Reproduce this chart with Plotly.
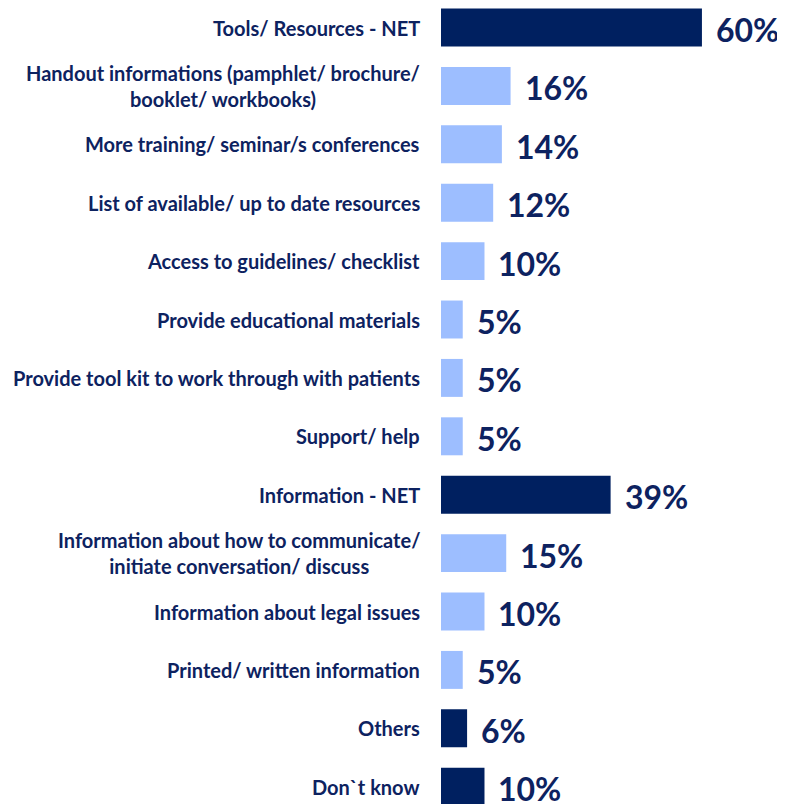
import plotly.graph_objects as go

categories = [
    "Tools/ Resources - NET",
    "Handout informations (pamphlet/ brochure/<br>booklet/ workbooks)",
    "More training/ seminar/s conferences",
    "List of available/ up to date resources",
    "Access to guidelines/ checklist",
    "Provide educational materials",
    "Provide tool kit to work through with patients",
    "Support/ help",
    "Information - NET",
    "Information about how to communicate/<br>initiate conversation/ discuss",
    "Information about legal issues",
    "Printed/ written information",
    "Others",
    "Don`t know",
]
values = [60, 16, 14, 12, 10, 5, 5, 5, 39, 15, 10, 5, 6, 10]
is_net = [True, False, False, False, False, False, False, False, True, False, False, False, True, True]

DARK = "#002060"
LIGHT = "#9DBEFF"
TEXT = "#0D2260"
FONT = "Lato"

colors = [DARK if n else LIGHT for n in is_net]
idx = list(range(len(categories)))

fig = go.Figure(go.Bar(
    x=values, y=idx, orientation="h",
    marker=dict(color=colors, line=dict(width=0)),
    hoverinfo="skip",
))

annotations = []
for i, (c, v) in enumerate(zip(categories, values)):
    annotations.append(dict(
        x=0, xref="paper", y=i, yref="y", text=c, showarrow=False,
        xanchor="right", yanchor="middle", align="center", xshift=-19,
        font=dict(family=FONT, size=20, color=TEXT, weight="bold"),
    ))
    annotations.append(dict(
        x=v, xref="x", y=i, yref="y", text=f"{v}%", showarrow=False,
        xanchor="left", yanchor="middle", xshift=12, yshift=-2,
        font=dict(family=FONT, size=32, color=TEXT, weight="bold"),
    ))

fig.update_layout(
    width=777, height=796,
    margin=dict(l=433, r=0, t=0, b=0),
    paper_bgcolor="white", plot_bgcolor="white",
    bargap=0.35,
    showlegend=False,
    xaxis=dict(range=[0, 79.1], visible=False, fixedrange=True),
    yaxis=dict(range=[13.296, -0.334], visible=False, fixedrange=True),
    annotations=annotations,
)

fig.write_html("out.html")
